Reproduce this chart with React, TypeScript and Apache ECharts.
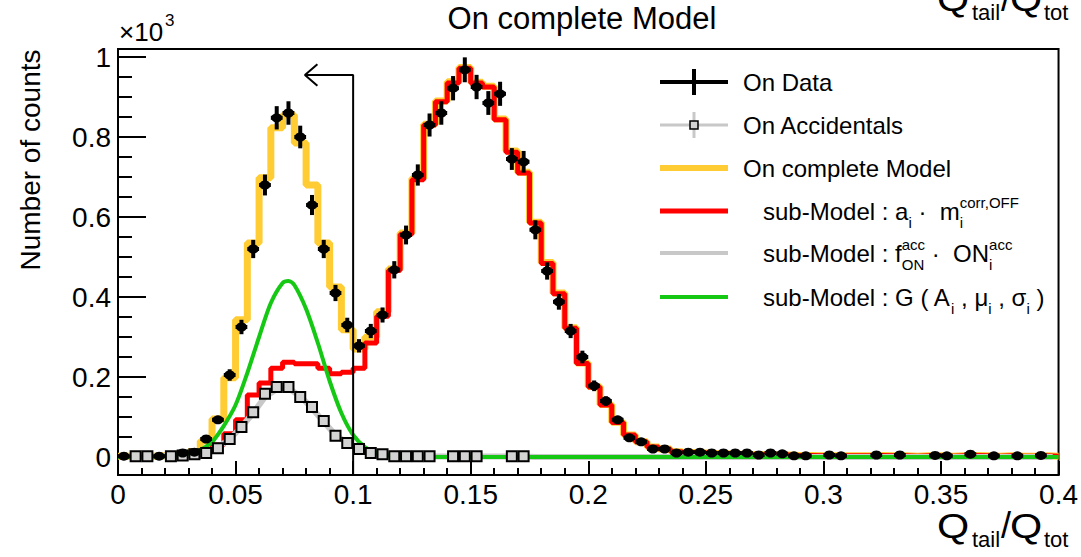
import React, { useEffect, useRef } from "react";
import * as echarts from "echarts";

const FONT = "'Liberation Sans', Arial, Helvetica, sans-serif";
const BIN_WIDTH = 0.005;
const N_BINS = 80;
// bin centres of the Q_tail/Q_tot histogram (0 .. 0.4, 80 bins)
const binCenters: number[] = Array.from({ length: N_BINS }, (_, i) => +(BIN_WIDTH / 2 + i * BIN_WIDTH).toFixed(4));

// values in units of 10^3 counts
const onData: (number | null)[] = [
  0.002, null, null, 0.002, null, 0.010, 0.012, 0.045, 0.093, 0.205,
  0.325, 0.520, 0.680, 0.848, 0.860, 0.800, 0.630, 0.520, 0.410, 0.330,
  0.278, 0.315, 0.355, 0.468, 0.555, 0.705, 0.830, 0.860, 0.922, 0.968,
  0.925, 0.885, 0.908, 0.745, 0.738, 0.568, 0.465, 0.388, 0.315, 0.250,
  0.178, 0.140, 0.093, 0.048, 0.038, 0.020, 0.020, 0.010, 0.012, 0.012,
  0.010, 0.010, 0.010, 0.010, 0.005, 0.010, 0.008, 0.003, 0.003, null,
  0.005, 0.003, null, null, 0.005, null, 0.005, null, null, 0.004,
  0.003, null, 0.007, null, 0.003, null, 0.003, null, 0.004, null,
];

const onAccidentals: (number | null)[] = [
  null, 0.002, 0.002, null, 0.002, 0.004, 0.007, 0.010, 0.022, 0.045,
  0.075, 0.112, 0.158, 0.175, 0.175, 0.150, 0.125, 0.090, 0.053, 0.035,
  0.020, 0.010, 0.007, 0.002, 0.002, 0.002, 0.002, null, 0.002, 0.002,
  0.002, null, null, 0.002, 0.002, null, null, null, null, null,
  null, null, null, null, null, null, null, null, null, null,
  null, null, null, null, null, null, null, null, null, null,
  null, null, null, null, null, null, null, null, null, null,
  null, null, null, null, null, null, null, null, null, null,
];

const completeModel: number[] = [
  0.002, 0.002, 0.002, 0.003, 0.004, 0.007, 0.013, 0.040, 0.095, 0.198,
  0.343, 0.535, 0.698, 0.823, 0.855, 0.785, 0.680, 0.535, 0.425, 0.318,
  0.270, 0.300, 0.363, 0.470, 0.560, 0.697, 0.832, 0.890, 0.938, 0.974,
  0.937, 0.927, 0.845, 0.765, 0.712, 0.587, 0.486, 0.410, 0.323, 0.235,
  0.176, 0.131, 0.087, 0.055, 0.038, 0.025, 0.020, 0.013, 0.011, 0.010,
  0.009, 0.008, 0.007, 0.006, 0.006, 0.005, 0.005, 0.004, 0.004, 0.003,
  0.003, 0.003, 0.003, 0.003, 0.004, 0.003, 0.003, 0.002, 0.003, 0.003,
  0.002, 0.003, 0.004, 0.003, 0.002, 0.003, 0.002, 0.002, 0.003, 0.002,
];

const subModelOff: number[] = [
  0.001, 0.001, 0.001, 0.002, 0.002, 0.003, 0.006, 0.013, 0.030, 0.058,
  0.093, 0.155, 0.185, 0.222, 0.237, 0.233, 0.233, 0.222, 0.208, 0.212,
  0.222, 0.285, 0.352, 0.466, 0.557, 0.693, 0.830, 0.888, 0.935, 0.972,
  0.935, 0.925, 0.843, 0.762, 0.710, 0.585, 0.484, 0.408, 0.322, 0.234,
  0.175, 0.130, 0.086, 0.055, 0.038, 0.025, 0.020, 0.013, 0.011, 0.010,
  0.009, 0.008, 0.007, 0.006, 0.006, 0.005, 0.005, 0.004, 0.004, 0.003,
  0.003, 0.003, 0.003, 0.003, 0.004, 0.003, 0.003, 0.002, 0.003, 0.003,
  0.002, 0.003, 0.004, 0.003, 0.002, 0.003, 0.002, 0.002, 0.003, 0.002,
];

const subModelAcc: number[] = [
  0.001, 0.001, 0.001, 0.002, 0.003, 0.005, 0.007, 0.012, 0.024, 0.045,
  0.075, 0.110, 0.150, 0.170, 0.172, 0.152, 0.122, 0.088, 0.055, 0.035,
  0.020, 0.011, 0.006, 0.003, 0.002, 0.001, 0.001, 0.001, 0.001, 0.001,
  0.001, 0.001, 0.001, 0.001, 0.001, 0, 0, 0, 0, 0,
  0, 0, 0, 0, 0, 0, 0, 0, 0, 0,
  0, 0, 0, 0, 0, 0, 0, 0, 0, 0,
  0, 0, 0, 0, 0, 0, 0, 0, 0, 0,
  0, 0, 0, 0, 0, 0, 0, 0, 0, 0,
];

// Gaussian sub-model
const gaussX: number[] = [0, 0.02, 0.03, 0.035, 0.04, 0.045, 0.05, 0.055, 0.06, 0.065, 0.07, 0.0725, 0.075, 0.08, 0.085, 0.09, 0.095, 0.1, 0.105, 0.11, 0.115, 0.12, 0.13, 0.2, 0.3, 0.4];
const gaussY: number[] = [0, 0.002, 0.008, 0.018, 0.038, 0.078, 0.13, 0.21, 0.3, 0.385, 0.435, 0.44, 0.43, 0.37, 0.285, 0.19, 0.11, 0.055, 0.025, 0.01, 0.004, 0.001, 0, 0, 0, 0];

const yMajorTicks = [0, 0.2, 0.4, 0.6, 0.8, 1];
const yMinorTicks = [0.05, 0.1, 0.15, 0.25, 0.3, 0.35, 0.45, 0.5, 0.55, 0.65, 0.7, 0.75, 0.85, 0.9, 0.95];
const cutLine = [[0.1, -0.045], [0.1, 0.955], [0.0795, 0.955]];
const cutArrow = [[0.0848, 0.982], [0.0795, 0.955], [0.0848, 0.928]];

function histSteps(vals: number[]): number[][] {
  const pts: number[][] = [];
  vals.forEach((v, i) => {
    pts.push([binCenters[i] - BIN_WIDTH / 2, v]);
    pts.push([binCenters[i] + BIN_WIDTH / 2, v]);
  });
  return pts;
}

const fmt = (v: number) => String(Number(v.toFixed(3)));

let measureCtx: CanvasRenderingContext2D | null = null;
function tw(text: string, size: number): number {
  if (!measureCtx) measureCtx = document.createElement("canvas").getContext("2d");
  if (!measureCtx) return text.length * size * 0.55;
  measureCtx.font = `${size}px ${FONT}`;
  return measureCtx.measureText(text).width;
}

function txt(text: string, x: number, y: number, size: number, extra: any = {}) {
  return {
    type: "text",
    x,
    y,
    z: 100,
    scaleX: extra.scaleX || 1,
    rotation: extra.rotation || 0,
    style: {
      text,
      fill: "#000",
      font: `${size}px ${FONT}`,
      fontSize: size,
      fontFamily: FONT,
      align: extra.align || "left",
      verticalAlign: "middle",
      textAlign: extra.align || "left",
      textVerticalAlign: "middle",
    },
  };
}

type Tok = { t: string; s?: number; dy?: number } | { sup: string; sub: string };
function row(x0: number, y: number, toks: Tok[]): any[] {
  let x = x0;
  const out: any[] = [];
  for (const tk of toks) {
    if ("sup" in tk) {
      out.push(txt(tk.sup, x, y - 9, 15));
      out.push(txt(tk.sub, x, y + 11, 15));
      x += Math.max(tw(tk.sup, 15), tw(tk.sub, 15));
    } else {
      const s = tk.s ?? 24;
      out.push(txt(tk.t, x, y + (tk.dy ?? 0), s));
      x += tw(tk.t, s);
    }
  }
  return out;
}

function axisTitle(y: number): any[] {
  return [
    txt("Q", 937, y, 36, { scaleX: 1.15 }),
    txt("tail", 972, y + 14, 22),
    txt("/", 1001, y, 36),
    txt("Q", 1010, y, 36, { scaleX: 1.15 }),
    txt("tot", 1044, y + 14, 22),
  ];
}

function seg(x1: number, y1: number, x2: number, y2: number, color: string, w: number) {
  return { type: "line", z: 100, shape: { x1, y1, x2, y2 }, style: { stroke: color, lineWidth: w } };
}

export default function App() {
  const ref = useRef<HTMLDivElement>(null);
  useEffect(() => {
    if (!ref.current) return;
    const chart = echarts.init(ref.current, undefined, { renderer: "svg" });
    const axisLineStyle = { color: "#000", width: 2 };
    const dataPts = binCenters
      .map((x, i) => (onData[i] == null ? null : [x, onData[i] as number, Math.sqrt((onData[i] as number) * 1000) / 1000]))
      .filter((d) => d !== null);
    const accPts = binCenters
      .map((x, i) => (onAccidentals[i] == null ? null : [x, onAccidentals[i] as number]))
      .filter((d) => d !== null);

    const legendX1 = 660, legendX2 = 728, legendMid = 694;
    const rows = [82, 125, 168, 211, 253, 297];
    const graphics: any[] = [
      txt("On complete Model", 582, 18, 31, { align: "center" }),
      txt("×10", 119, 32, 26),
      txt("3", 165, 20, 17),
      txt("Number of counts", 30, 160, 28, { align: "center", rotation: Math.PI / 2 }),
      ...axisTitle(525),
      ...axisTitle(-2),
      // legend symbols
      seg(legendX1, rows[0], legendX2, rows[0], "#000", 4),
      seg(legendMid, rows[0] - 13, legendMid, rows[0] + 13, "#000", 4),
      seg(legendX1, rows[1], legendX2, rows[1], "#c8c8c8", 3),
      seg(legendMid, rows[1] - 13, legendMid, rows[1] + 13, "#c8c8c8", 3),
      { type: "rect", z: 101, shape: { x: legendMid - 4, y: rows[1] - 4, width: 8, height: 8 }, style: { fill: "#d3d3d3", stroke: "#000", lineWidth: 1.5 } },
      seg(legendX1, rows[2], legendX2, rows[2], "#ffcc33", 6),
      seg(legendX1, rows[3], legendX2, rows[3], "#ff0000", 5),
      seg(legendX1, rows[4], legendX2, rows[4], "#c8c8c8", 4),
      seg(legendX1, rows[5], legendX2, rows[5], "#14c814", 4),
      // legend texts
      txt("On Data", 743, rows[0], 24),
      txt("On Accidentals", 743, rows[1], 24),
      txt("On complete Model", 743, rows[2], 24),
      ...row(763, rows[3], [{ t: "sub-Model : a" }, { t: "i", s: 15, dy: 11 }, { t: " ·  m" }, { sup: "corr,OFF", sub: "i" }]),
      ...row(763, rows[4], [{ t: "sub-Model : f" }, { sup: "acc", sub: "ON" }, { t: " ·  ON" }, { sup: "acc", sub: "i" }]),
      ...row(763, rows[5], [
        { t: "sub-Model : G ( A" }, { t: "i", s: 15, dy: 11 },
        { t: " , μ" }, { t: "i", s: 15, dy: 11 },
        { t: " , σ" }, { t: "i", s: 15, dy: 11 },
        { t: " )" },
      ]),
    ];

    chart.setOption({
      animation: false,
      backgroundColor: "#fff",
      grid: { left: 118, right: 21, top: 49, bottom: 82, show: true, borderColor: "#000", borderWidth: 2, backgroundColor: "transparent" },
      xAxis: {
        type: "value",
        min: 0,
        max: 0.4,
        interval: 0.05,
        axisLine: { show: true, onZero: false, lineStyle: axisLineStyle },
        axisTick: { show: true, inside: true, length: 14, lineStyle: axisLineStyle },
        minorTick: { show: true, splitNumber: 5, length: 7, lineStyle: axisLineStyle },
        axisLabel: { fontSize: 28, color: "#000", fontFamily: FONT, margin: 5, formatter: fmt, showMinLabel: true, showMaxLabel: true },
        splitLine: { show: false },
        minorSplitLine: { show: false },
      },
      yAxis: [
        {
          type: "value",
          min: -0.045,
          max: 1.02,
          axisLine: { show: true, onZero: false, lineStyle: axisLineStyle },
          axisTick: { show: true, inside: true, length: 28, lineStyle: axisLineStyle, customValues: yMajorTicks },
          axisLabel: { fontSize: 28, color: "#000", fontFamily: FONT, margin: 7, formatter: fmt, customValues: yMajorTicks },
          splitLine: { show: false },
        },
        {
          type: "value",
          min: -0.045,
          max: 1.02,
          position: "left",
          axisLine: { show: false, onZero: false },
          axisTick: { show: true, inside: true, length: 14, lineStyle: axisLineStyle, customValues: yMinorTicks },
          axisLabel: { show: false },
          splitLine: { show: false },
        },
      ],
      series: [
        { name: "On complete Model", type: "line", data: histSteps(completeModel), symbol: "none", lineStyle: { color: "#ffcc33", width: 7 }, z: 2 },
        { name: "sub-Model OFF", type: "line", data: histSteps(subModelOff), symbol: "none", lineStyle: { color: "#ff0000", width: 5 }, z: 3 },
        { name: "sub-Model acc", type: "line", data: binCenters.map((x, i) => [x, subModelAcc[i]]), symbol: "none", lineStyle: { color: "#c8c8c8", width: 6 }, z: 4 },
        { name: "sub-Model G", type: "line", smooth: 0.3, data: gaussX.map((x, i) => [x, gaussY[i]]), symbol: "none", lineStyle: { color: "#14c814", width: 4 }, z: 5 },
        { name: "On Accidentals", type: "scatter", data: accPts, symbol: "rect", symbolSize: 10, itemStyle: { color: "#d3d3d3", borderColor: "#000", borderWidth: 2, opacity: 1 }, z: 6 },
        { name: "cut", type: "line", data: cutLine, symbol: "none", lineStyle: { color: "#000", width: 2 }, z: 7 },
        { name: "cutArrow", type: "line", data: cutArrow, symbol: "none", lineStyle: { color: "#000", width: 2 }, z: 7 },
        {
          name: "On Data err",
          type: "custom",
          data: dataPts,
          encode: { x: 0, y: 1 },
          z: 8,
          renderItem: (params: any, api: any) => {
            const x = api.value(0), y = api.value(1), e = api.value(2);
            const c = api.coord([x, y]);
            const t = api.coord([x, y + e]);
            const b = api.coord([x, y - e]);
            const l = api.coord([x - BIN_WIDTH / 2, y]);
            const r = api.coord([x + BIN_WIDTH / 2, y]);
            return {
              type: "group",
              children: [
                { type: "line", shape: { x1: l[0], y1: c[1], x2: r[0], y2: c[1] }, style: { stroke: "#000", lineWidth: 4 } },
                { type: "line", shape: { x1: c[0], y1: t[1], x2: c[0], y2: b[1] }, style: { stroke: "#000", lineWidth: 4 } },
              ],
            };
          },
        },
        { name: "On Data", type: "scatter", data: dataPts.map((d: any) => [d[0], d[1]]), symbol: "circle", symbolSize: [11, 9], itemStyle: { color: "#000", opacity: 1 }, z: 9 },
      ],
      graphic: { elements: graphics },
    });
    return () => chart.dispose();
  }, []);
  return <div ref={ref} style={{ position: "absolute", left: 0, top: 0, width: 1081, height: 557 }} />;
}
